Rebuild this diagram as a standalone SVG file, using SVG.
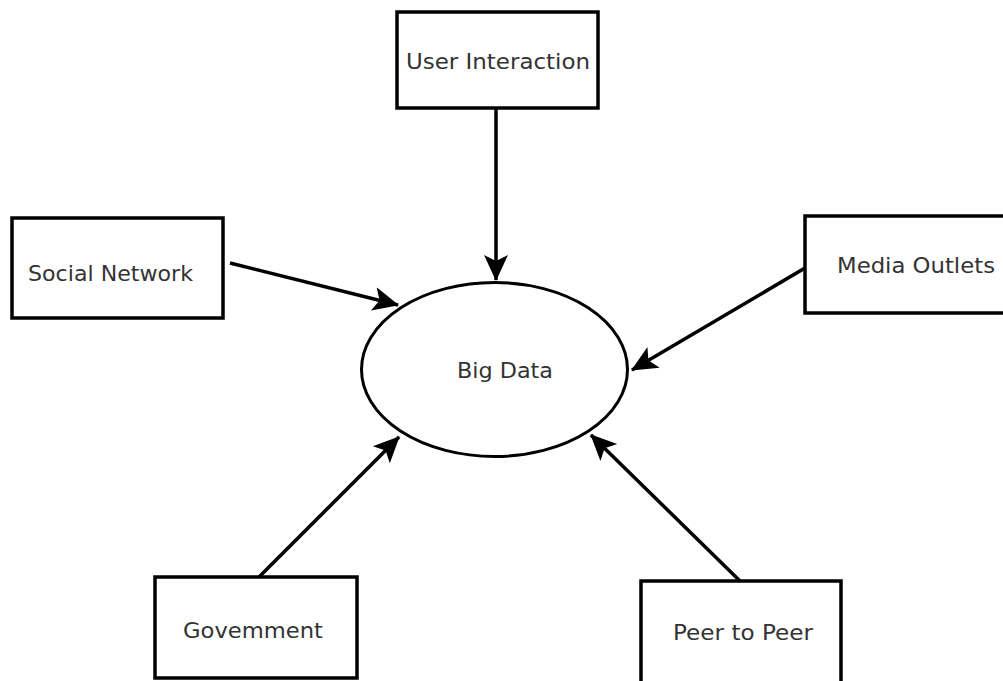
<svg xmlns="http://www.w3.org/2000/svg" width="1003" height="681" viewBox="0 0 1003 681">
<style>
.box{fill:#fff;stroke:#000;stroke-width:3.5}
.ell{fill:#fff;stroke:#000;stroke-width:3}
.lbl{font-family:"DejaVu Sans",Verdana,sans-serif;font-size:22px;fill:#333}
.con{stroke:#000;stroke-width:3.5;fill:none;marker-end:url(#ah)}
</style>
<defs>
<marker id="ah" viewBox="0 0 26 26" refX="25" refY="13" markerWidth="26" markerHeight="26" markerUnits="userSpaceOnUse" orient="auto">
<path d="M0,1 L26,13 L0,25 L6,13 z" fill="#000"/>
</marker>
</defs>
<rect width="1003" height="681" fill="#fff"/>
<g id="connectors">
<line class="con" x1="496" y1="108" x2="496" y2="280"/>
<line class="con" x1="230" y1="263" x2="398" y2="305"/>
<line class="con" x1="805" y1="268" x2="632" y2="370"/>
<line class="con" x1="259" y1="577" x2="399" y2="437"/>
<line class="con" x1="740" y1="581" x2="591" y2="435"/>
</g>
<g id="big-data">
<ellipse class="ell" cx="494.5" cy="369.5" rx="133" ry="87"/>
<text class="lbl" x="457" y="378" textLength="96" lengthAdjust="spacingAndGlyphs">Big Data</text>
</g>
<g id="user-interaction">
<rect class="box" x="397" y="12" width="201" height="96"/>
<text class="lbl" x="406" y="69" textLength="184" lengthAdjust="spacingAndGlyphs">User Interaction</text>
</g>
<g id="social-network">
<rect class="box" x="12" y="218" width="211" height="100"/>
<text class="lbl" x="28" y="281" textLength="165" lengthAdjust="spacingAndGlyphs">Social Network</text>
</g>
<g id="media-outlets">
<rect class="box" x="805" y="216" width="210" height="97"/>
<text class="lbl" x="837" y="273" textLength="158" lengthAdjust="spacingAndGlyphs">Media Outlets</text>
</g>
<g id="government">
<rect class="box" x="155" y="577" width="202" height="101"/>
<text class="lbl" x="183" y="638" textLength="140" lengthAdjust="spacingAndGlyphs">Govemment</text>
</g>
<g id="peer-to-peer">
<rect class="box" x="641" y="581" width="200" height="110"/>
<text class="lbl" x="673" y="640" textLength="140" lengthAdjust="spacingAndGlyphs">Peer to Peer</text>
</g>
</svg>
